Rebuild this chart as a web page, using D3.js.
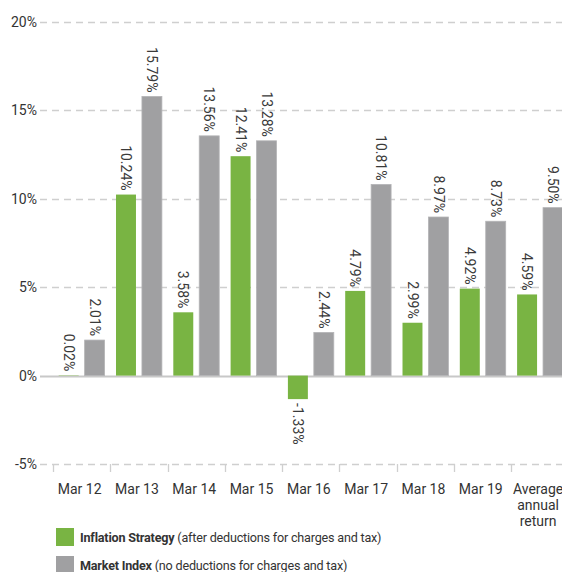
<!DOCTYPE html>
<html>
<head>
<meta charset="utf-8">
<script src="https://cdn.jsdelivr.net/npm/d3@7"></script>
<style>
  body { margin: 0; background: #fff; }
  svg { font-family: Roboto, "Liberation Sans", sans-serif; }
</style>
</head>
<body>
<svg id="chart" width="562" height="572"></svg>
<script>
var categories = ["Mar 12", "Mar 13", "Mar 14", "Mar 15", "Mar 16", "Mar 17", "Mar 18", "Mar 19", "Average annual return"];
var inflationStrategy = [0.02, 10.24, 3.58, 12.41, -1.33, 4.79, 2.99, 4.92, 4.59];
var marketIndex = [2.01, 15.79, 13.56, 13.28, 2.44, 10.81, 8.97, 8.73, 9.50];
var yTicks = [-5, 0, 5, 10, 15, 20];
var seriesNames = ["Inflation Strategy", "Market Index"];
var seriesNotes = ["(after deductions for charges and tax)", "(no deductions for charges and tax)"];
var colors = ["#79b443", "#a0a0a2"];

var svg = d3.select("#chart");

var y = d3.scaleLinear().domain([-5, 20]).range([464, 22]);
var x = d3.scaleBand().domain(categories).range([53, 53 + 9 * 57.3]).padding(0);
var xs = d3.scaleBand().domain([0, 1]).range([0, x.bandwidth()]).paddingInner(0.23).paddingOuter(0.22);

// gridlines
svg.append("g").selectAll("line")
  .data(yTicks)
  .enter().append("line")
  .attr("x1", 40).attr("x2", 562)
  .attr("y1", function(d) { return Math.round(y(d)) + 0.5; })
  .attr("y2", function(d) { return Math.round(y(d)) + 0.5; })
  .attr("stroke", function(d) { return d === 0 ? "#c8c8c8" : "#cfcfcf"; })
  .attr("stroke-width", function(d) { return d === 0 ? 2 : 1.3; })
  .attr("stroke-dasharray", function(d) { return d === 0 ? null : "7,5"; });

// y labels
svg.append("g").selectAll("text")
  .data(yTicks)
  .enter().append("text")
  .attr("x", 37)
  .attr("y", function(d) { return y(d) + 5; })
  .attr("text-anchor", "end")
  .attr("font-size", 14)
  .attr("fill", "#333")
  .text(function(d) { return d + "%"; });

// category ticks below -5 line
var bounds = categories.map(function(c) { return x(c); });
svg.append("g").selectAll("line")
  .data(bounds)
  .enter().append("line")
  .attr("x1", function(d) { return Math.round(d) + 0.5; })
  .attr("x2", function(d) { return Math.round(d) + 0.5; })
  .attr("y1", y(-5)).attr("y2", y(-5) + 8)
  .attr("stroke", "#cfcfcf").attr("stroke-width", 1.3);

// bars
var rows = [];
categories.forEach(function(c, i) {
  rows.push({ cat: c, s: 0, v: inflationStrategy[i] });
  rows.push({ cat: c, s: 1, v: marketIndex[i] });
});

var bars = svg.append("g");
bars.selectAll("rect")
  .data(rows)
  .enter().append("rect")
  .attr("x", function(d) { return x(d.cat) + xs(d.s); })
  .attr("width", xs.bandwidth())
  .attr("y", function(d) { return y(Math.max(0, d.v)); })
  .attr("height", function(d) { return Math.abs(y(d.v) - y(0)); })
  .attr("fill", function(d) { return colors[d.s]; })
  .attr("stroke", function(d) { return d.s === 1 ? "#b4b4b6" : "none"; })
  .attr("stroke-width", 0.8);

// value labels, rotated
bars.selectAll("text")
  .data(rows)
  .enter().append("text")
  .attr("transform", function(d) {
    var cx = x(d.cat) + xs(d.s) + xs.bandwidth() / 2;
    var yy = d.v >= 0 ? y(d.v) - 4 : y(d.v) + 4;
    return "translate(" + cx + "," + yy + ") rotate(90)";
  })
  .attr("text-anchor", function(d) { return d.v >= 0 ? "end" : "start"; })
  .attr("dy", "0.35em")
  .attr("font-size", 14)
  .attr("fill", "#3a3a3a")
  .text(function(d) { return d.v.toFixed(2) + "%"; });

// x labels
var xl = svg.append("g").selectAll("text")
  .data(categories)
  .enter().append("text")
  .attr("x", function(d) { return x(d) + x.bandwidth() / 2 - 2; })
  .attr("y", 494)
  .attr("text-anchor", "middle")
  .attr("font-size", 14)
  .attr("fill", "#333");
xl.each(function(d) {
  var lines = d === "Average annual return" ? ["Average", "annual", "return"] : [d];
  var t = d3.select(this);
  lines.forEach(function(l, i) {
    t.append("tspan").attr("x", t.attr("x")).attr("dy", i === 0 ? 0 : 16).text(l);
  });
});

// legend
var lg = svg.append("g").selectAll("g")
  .data(seriesNames)
  .enter().append("g")
  .attr("transform", function(d, i) { return "translate(56," + (528 + i * 28) + ")"; });
lg.append("rect").attr("width", 18).attr("height", 18)
  .attr("fill", function(d, i) { return colors[i]; });
var lt = lg.append("text").attr("x", 24).attr("y", 14).attr("font-size", 12.6)
  .attr("fill", "#333").attr("letter-spacing", -0.2);
lt.append("tspan").attr("font-weight", "bold").text(function(d) { return d; });
lt.append("tspan").text(function(d, i) { return " " + seriesNotes[i]; });
</script>
</body>
</html>
